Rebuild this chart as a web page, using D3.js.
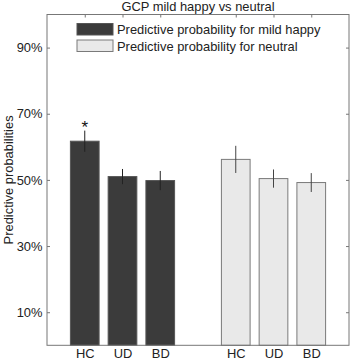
<!DOCTYPE html>
<html><head><meta charset="utf-8">
<script src="https://cdn.jsdelivr.net/npm/d3@7"></script>
<style>body{margin:0;background:#fff}svg{display:block}text{font-family:"Liberation Sans",Arial,sans-serif}</style>
</head><body>
<script>
const groups = ["HC","UD","BD"];
const positions = [1,2,3,5,6,7];
const tickLabels = ["HC","UD","BD","HC","UD","BD"];
const happyValues = [61.7, 51.0, 49.8];
const happyErrors = [3.2, 2.3, 2.9];
const neutralValues = [56.2, 50.4, 49.2];
const neutralErrors = [4.1, 2.75, 2.85];
const yTicks = [10,30,50,70,90];
const seriesNames = ["Predictive probability for mild happy","Predictive probability for neutral"];
const significance = ["*","","","","",""];

const W=350,H=362;
const m={l:47,r:349,t:14.5,b:345.3};
const fs=12.9;
const svg=d3.select("body").append("svg").attr("width",W).attr("height",H);
const x=d3.scaleLinear().domain([0,8]).range([m.l,m.r]);
const y=d3.scaleLinear().domain([0,100]).range([m.b,m.t]);
const bw=x(0.76)-x(0);
const colors=["#3b3b3b","#e9e9e9"];
const edge=["#555","#7a7a7a"];

const data=[];
groups.forEach((g,i)=>data.push({pos:positions[i],v:happyValues[i],e:happyErrors[i],s:0,sig:significance[i]}));
groups.forEach((g,i)=>data.push({pos:positions[i+3],v:neutralValues[i],e:neutralErrors[i],s:1,sig:significance[i+3]}));

// bars
svg.selectAll("rect.bar").data(data).enter().append("rect")
 .attr("x",d=>x(d.pos)-bw/2).attr("y",d=>y(d.v)).attr("width",bw).attr("height",d=>y(0)-y(d.v))
 .attr("fill",d=>colors[d.s]).attr("stroke",d=>edge[d.s]).attr("stroke-width",1);
// error bars
svg.selectAll("line.err").data(data).enter().append("line")
 .attr("x1",d=>x(d.pos)).attr("x2",d=>x(d.pos)).attr("y1",d=>y(d.v+d.e)).attr("y2",d=>y(d.v-d.e))
 .attr("stroke",d=>d.s?"#444":"#222").attr("stroke-width",1);
// significance
svg.selectAll("text.sig").data(data.filter(d=>d.sig)).enter().append("text")
 .attr("x",d=>x(d.pos)).attr("y",d=>y(d.v+d.e)+2).attr("text-anchor","middle").attr("font-size",17).attr("fill","#111").text(d=>d.sig);

// axes box
const ac="#777";
svg.append("rect").attr("x",m.l).attr("y",m.t).attr("width",m.r-m.l).attr("height",m.b-m.t).attr("fill","none").attr("stroke",ac).attr("stroke-width",1);
const yl=d3.axisLeft(y).tickValues(yTicks).tickFormat(d=>d+"%").tickSizeInner(-3).tickSizeOuter(0).tickPadding(4.5);
const ga=svg.append("g").attr("transform",`translate(${m.l},0)`).call(yl);
ga.select(".domain").remove();
ga.selectAll("line").attr("stroke",ac);
ga.selectAll("text").attr("font-size",fs).attr("fill","#222");
const yr=d3.axisRight(y).tickValues(yTicks).tickFormat("").tickSizeInner(-3).tickSizeOuter(0);
const gr=svg.append("g").attr("transform",`translate(${m.r},0)`).call(yr);
gr.select(".domain").remove(); gr.selectAll("line").attr("stroke",ac);
const xt=d3.axisTop(x).tickValues(positions).tickFormat("").tickSizeInner(-3).tickSizeOuter(0);
const gt=svg.append("g").attr("transform",`translate(0,${m.t})`).call(xt);
gt.select(".domain").remove(); gt.selectAll("line").attr("stroke",ac);
const xb=d3.axisBottom(x).tickValues(positions).tickFormat((d,i)=>tickLabels[i]).tickSizeInner(0).tickSizeOuter(0).tickPadding(4);
const gb=svg.append("g").attr("transform",`translate(0,${m.b})`).call(xb);
gb.select(".domain").remove();
gb.selectAll("text").attr("font-size",fs).attr("fill","#222");

// title
svg.append("text").attr("x",(m.l+m.r)/2).attr("y",11).attr("text-anchor","middle").attr("font-size",fs).attr("fill","#222").text("GCP mild happy vs neutral");
// y label
svg.append("text").attr("transform",`translate(12.5,${(m.t+m.b)/2}) rotate(-90)`).attr("text-anchor","middle").attr("font-size",fs).attr("fill","#222").text("Predictive probabilities");

// legend
const lg=svg.append("g");
seriesNames.forEach((n,i)=>{
 lg.append("rect").attr("x",77).attr("y",23.5+i*16.5).attr("width",36).attr("height",11.5).attr("fill",colors[i]).attr("stroke",edge[i]);
 lg.append("text").attr("x",117).attr("y",34+i*16.5).attr("font-size",fs).attr("fill","#222").text(n);
});
</script>
</body></html>
